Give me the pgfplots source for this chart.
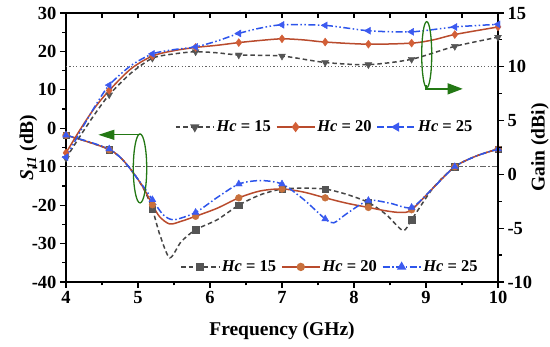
\documentclass[border=0pt]{standalone}
\usepackage{pgfplots}
\pgfplotsset{compat=1.18}
\usepackage{fontspec}
\setmainfont{Liberation Serif}
\usetikzlibrary{arrows.meta}

\definecolor{cgray}{RGB}{70,70,70}
\definecolor{cgraym}{RGB}{85,85,85}
\definecolor{cred}{RGB}{185,75,45}
\definecolor{credm}{RGB}{210,95,55}
\definecolor{credc}{RGB}{200,112,60}
\definecolor{cblue}{RGB}{45,85,235}
\definecolor{cbluem}{RGB}{60,90,240}
\definecolor{cgreen}{RGB}{35,120,20}
\definecolor{refgray}{RGB}{100,100,100}

\pgfplotsset{
 common/.style={
  scale only axis, width=432pt, height=269pt,
  xmin=4, xmax=10,
  axis line style={line width=1.3pt},
  tick style={line width=1.2pt, black},
  major tick length=6pt, minor tick length=3.5pt,
  tick label style={font=\fontsize{18.5}{18.5}\selectfont\bfseries},
  label style={font=\fontsize{19.5}{19.5}\selectfont\bfseries},
  /pgf/number format/assume math mode=true,
  legend columns=3,
  legend style={draw=none, fill=none, inner sep=0pt,
    font=\fontsize{16.5}{16.5}\selectfont\bfseries,
    /tikz/every even column/.append style={column sep=3pt}},
  legend image code/.code={\draw[mark repeat=2,mark phase=2] plot coordinates {(0pt,0pt) (19pt,0pt) (38pt,0pt)};},
 },
 s15/.style={cgray, line width=1.5pt, dash pattern=on 4.5pt off 3pt},
 s20/.style={cred, line width=1.5pt},
 s25a/.style={cblue, line width=1.5pt, dash pattern=on 7pt off 2.5pt on 1.5pt off 2.5pt},
 s25g/.style={cblue, line width=1.5pt, dash pattern=on 7pt off 2.5pt on 1.5pt off 2.5pt on 1.5pt off 2.5pt},
}

\begin{document}
\begin{tikzpicture}
% ---------- S11 axis (left, bottom) ----------
\begin{axis}[common,
 ymin=-40, ymax=30, ytick={-40,-30,...,30}, minor y tick num=1,
 xtick={4,...,10}, minor x tick num=1,
 axis x line*=bottom, axis y line*=left, tick align=outside,
 xlabel={Frequency (GHz)},
 ylabel={\textit{S}\textsubscript{\textit{11}} (dB)},
 xlabel style={at={(axis description cs:0.5,-0.182)}, anchor=center},
 ylabel style={at={(axis description cs:-0.087,0.5)}, anchor=center},
 legend style={at={(axis description cs:0.264,0.056)}, anchor=west},
]
\coordinate (sw) at (rel axis cs:0,0);
\coordinate (ne) at (rel axis cs:1,1);
\addplot[refgray, line width=1pt, dash pattern=on 6pt off 2pt on 1.5pt off 2pt, forget plot] coordinates {(4,-10) (10,-10)};

% Hc = 15
\addplot[s15, smooth, tension=0.45, forget plot] coordinates {
(4.0,-1.8) (4.3,-3.5) (4.6,-5.5) (4.75,-7.5) (4.87,-10) (5.0,-13.3) (5.1,-16.5) (5.2,-21) (5.3,-27.5) (5.44,-33.7) (5.6,-29.5) (5.8,-26.4) (6.1,-23.8) (6.4,-20.0) (6.7,-17.3) (7.0,-15.8) (7.3,-15.6) (7.6,-15.8) (7.9,-17.2) (8.2,-19.3) (8.45,-22.5) (8.68,-26.6) (8.8,-23.8) (9.1,-15.5) (9.4,-10) (9.7,-7.2) (10,-5.4)};
\addplot[only marks, mark=square*, mark size=3.2pt, mark options={fill=cgraym, draw=cgraym}, forget plot] coordinates {
(4.0,-1.8) (4.6,-5.6) (5.2,-21) (5.8,-26.4) (6.4,-20.0) (7.0,-15.8) (7.6,-15.8) (8.2,-19.3) (8.8,-23.8) (9.4,-10) (10,-5.4)};

% Hc = 20
\addplot[s20, smooth, tension=0.5, forget plot] coordinates {
(4.0,-1.8) (4.3,-3.5) (4.6,-5.5) (4.75,-7.5) (4.87,-10) (5.0,-13.3) (5.1,-16.3) (5.2,-19.9) (5.3,-23) (5.44,-24.9) (5.6,-24.2) (5.8,-22.9) (6.1,-20.8) (6.4,-18.1) (6.7,-16.3) (7.0,-15.8) (7.3,-16.6) (7.6,-18.1) (7.9,-19.5) (8.2,-20.6) (8.45,-21.5) (8.65,-21.9) (8.8,-21.2) (9.1,-15.5) (9.4,-10) (9.7,-7.2) (10,-5.4)};
\addplot[only marks, mark=*, mark size=3.4pt, mark options={fill=credc, draw=credc}, forget plot] coordinates {
(4.0,-1.8) (4.6,-5.6) (5.2,-19.9) (5.8,-22.9) (6.4,-18.1) (7.0,-15.8) (7.6,-18.1) (8.2,-20.6) (8.8,-21.2) (9.4,-10) (10,-5.4)};

% Hc = 25
\addplot[s25a, smooth, tension=0.45, forget plot] coordinates {
(4.0,-1.8) (4.3,-3.4) (4.6,-5.4) (4.75,-7.5) (4.87,-10) (5.0,-13.3) (5.1,-15.8) (5.2,-18.6) (5.35,-22.5) (5.5,-23.8) (5.8,-21.9) (6.1,-18.0) (6.4,-14.5) (6.7,-13.6) (7.0,-14.5) (7.3,-18.5) (7.6,-23.6) (7.72,-24.6) (7.9,-22.2) (8.2,-18.8) (8.5,-19.5) (8.8,-20.6) (9.1,-15.5) (9.4,-10) (9.7,-7.2) (10,-5.4)};
\addplot[only marks, mark=triangle*, mark size=4pt, mark options={fill=cbluem, draw=cbluem}, forget plot] coordinates {
(4.0,-1.8) (4.6,-5.4) (5.2,-18.6) (5.8,-21.9) (6.4,-14.5) (7.0,-14.5) (7.6,-23.6) (8.2,-18.8) (8.8,-20.6) (9.4,-10) (10,-5.4)};

\addlegendimage{s15, mark=square*, mark size=3.2pt, mark options={solid, fill=cgraym, draw=cgraym}}
\addlegendentry{\textit{Hc} = 15}
\addlegendimage{s20, mark=*, mark size=3.4pt, mark options={fill=credc, draw=credc}}
\addlegendentry{\textit{Hc} = 20}
\addlegendimage{s25a, mark=triangle*, mark size=4pt, mark options={solid, fill=cbluem, draw=cbluem}}
\addlegendentry{\textit{Hc} = 25}

\draw[cgreen, line width=1.3pt] (axis cs:5.028,-10.44) ellipse [x radius=6.7pt, y radius=34.5pt];
\draw[cgreen, line width=1.3pt, -{Triangle[length=16pt,width=10pt]}] (axis cs:5.03,-1.7) -- (axis cs:4.45,-1.7);
\end{axis}

% ---------- Gain axis (right) ----------
\begin{axis}[common,
 ymin=-10, ymax=15, ytick={-10,-5,...,15}, minor y tick num=1,
 axis y line*=right, axis x line=none, tick align=outside,
 ylabel={Gain (dBi)},
 ylabel style={at={(axis description cs:1.097,0.5)}, anchor=center},
 legend style={at={(axis description cs:0.252,0.576)}, anchor=west},
]
\addplot[refgray, line width=1pt, dash pattern=on 1.2pt off 2.2pt, forget plot] coordinates {(4,10) (10,10)};

% Hc = 15
\addplot[s15, smooth, tension=0.45, forget plot] coordinates {
(4.0,1.5) (4.2,3.6) (4.4,5.6) (4.6,7.4) (4.9,9.4) (5.2,10.8) (5.5,11.2) (5.8,11.4) (6.1,11.3) (6.4,11.1) (7.0,11.0) (7.6,10.4) (8.2,10.2) (8.8,10.7) (9.4,11.9) (10.0,12.75)};
\addplot[only marks, mark=triangle*, mark size=4pt, mark options={rotate=180, fill=cgraym, draw=cgraym}, forget plot] coordinates {
(4.0,1.5) (4.6,7.4) (5.2,10.8) (5.8,11.4) (6.4,11.1) (7.0,11.0) (7.6,10.4) (8.2,10.2) (8.8,10.7) (9.4,11.9) (10.0,12.75)};

% Hc = 20
\addplot[s20, smooth, tension=0.5, forget plot] coordinates {
(4.0,2.0) (4.2,4.2) (4.4,6.2) (4.6,7.8) (4.9,9.8) (5.2,11.0) (5.5,11.5) (5.8,11.8) (6.1,12.0) (6.4,12.25) (6.7,12.45) (7.0,12.6) (7.3,12.5) (7.6,12.3) (8.2,12.1) (8.8,12.2) (9.1,12.5) (9.4,13.0) (10.0,13.7)};
\addplot[only marks, mark=diamond*, mark size=4pt, mark options={fill=credm, draw=credm}, forget plot] coordinates {
(4.0,2.0) (4.6,7.8) (5.2,11.0) (5.8,11.8) (6.4,12.25) (7.0,12.6) (7.6,12.3) (8.2,12.1) (8.8,12.2) (9.4,13.0) (10.0,13.7)};

% Hc = 25
\addplot[s25g, smooth, tension=0.45, forget plot] coordinates {
(4.0,1.6) (4.2,4.0) (4.4,6.3) (4.6,8.3) (4.9,10.1) (5.2,11.2) (5.5,11.6) (5.8,11.85) (6.1,12.4) (6.4,13.1) (6.7,13.6) (7.0,13.9) (7.6,13.85) (8.2,13.35) (8.8,13.25) (9.4,13.7) (10.0,13.95)};
\addplot[only marks, mark=triangle*, mark size=4pt, mark options={rotate=90, fill=cbluem, draw=cbluem}, forget plot] coordinates {
(4.0,1.6) (4.6,8.3) (5.2,11.2) (5.8,11.85) (6.4,13.1) (7.0,13.9) (7.6,13.85) (8.2,13.35) (8.8,13.25) (9.4,13.7) (10.0,13.95)};

\addlegendimage{s15, mark=triangle*, mark size=4pt, mark options={solid, rotate=180, fill=cgraym, draw=cgraym}}
\addlegendentry{\textit{Hc} = 15}
\addlegendimage{s20, mark=diamond*, mark size=4pt, mark options={fill=credm, draw=credm}}
\addlegendentry{\textit{Hc} = 20}
\addlegendimage{cblue, line width=1.5pt, dash pattern=on 7pt off 3pt, mark=triangle*, mark size=4pt, mark options={solid, rotate=90, fill=cbluem, draw=cbluem}}
\addlegendentry{\textit{Hc} = 25}

\draw[cgreen, line width=1.3pt] (axis cs:9.01,11.13) ellipse [x radius=5pt, y radius=33pt];
\draw[cgreen, line width=1.3pt, -{Triangle[length=15pt,width=11pt]}] (axis cs:9.0,8.3) -- (axis cs:9.0,7.95) -- (axis cs:9.51,7.95);
\end{axis}

% ---------- top frame ticks ----------
\begin{axis}[common,
 ymin=0, ymax=1, axis x line*=top, axis y line=none,
 xtick={4,4.5,...,10}, xticklabel=\empty, tick align=inside,
 major tick length=5pt,
]
\end{axis}

\pgfresetboundingbox
\path[use as bounding box] ([shift={(-66pt,-65pt)}]sw) rectangle ([shift={(52pt,13pt)}]ne);
\end{tikzpicture}
\end{document}
